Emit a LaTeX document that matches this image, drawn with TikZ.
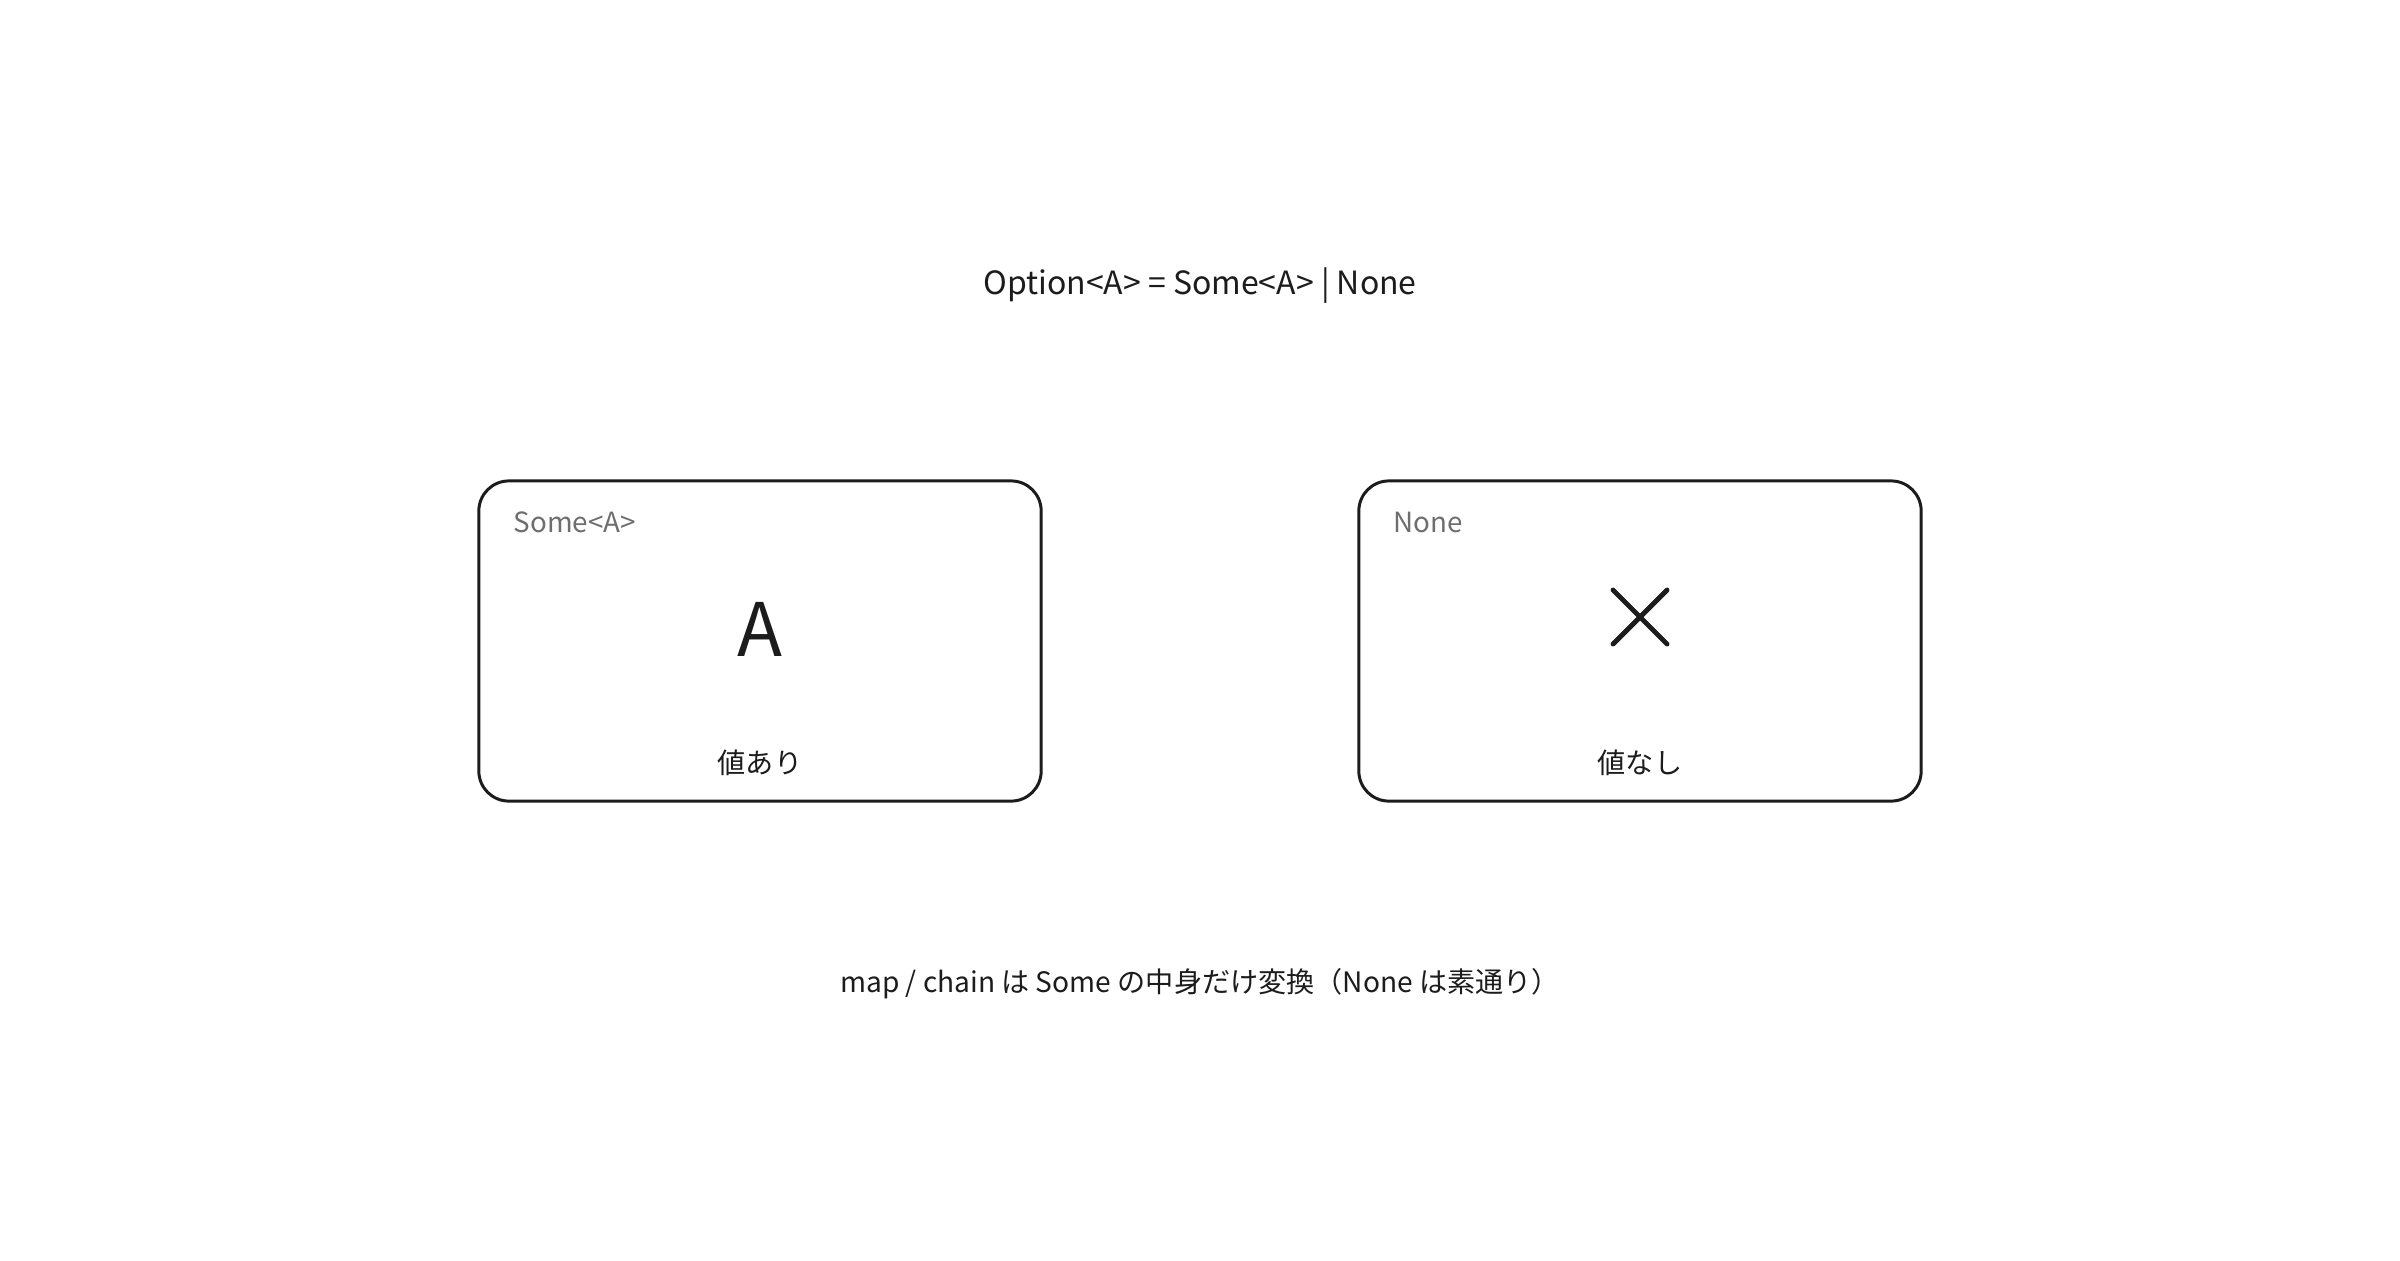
\documentclass[tikz,border=0pt]{standalone}
\usepackage{fontspec}
\setmainfont{Noto Sans CJK JP}
\usetikzlibrary{positioning}
\definecolor{ink}{HTML}{1C1C1C}
\definecolor{tagGray}{HTML}{6E6E6E}
\tikzset{every text node part/.style={align=center}}
\tikzset{card/.style = {draw=ink, line width=0.85pt, rounded corners=0.3cm,
						minimum width=5.62cm, minimum height=3.2cm}}
\tikzset{tag/.style = {text=tagGray, anchor=west, inner sep=0pt, font=\fontsize{7.9}{10}\selectfont}}
\tikzset{txt/.style = {text=ink, inner sep=0pt, font=\fontsize{8}{10}\selectfont}}

\begin{document}
\begin{tikzpicture}[x=0.01cm, y=-0.01cm, line cap=round, line join=round]
		\useasboundingbox (0,0) rectangle (2400,1260);
		
		% Coordinates
		\coordinate (S) at (760,641);
		\coordinate (N) at (1640,641);
		
		% Cards
		\node[card] (some) at (S) {};
		\node[card] (none) at (N) {};
		
		% Nodes
		\node[txt, font=\fontsize{9.1}{11}\selectfont] (title) at (1200,286) {Option<A> = Some<A> | None};
		\node[tag] (someTag) at (513,522) {Some<A>};
		\node[tag] (noneTag) at (1393,522) {None};
		\node[txt, font=\fontsize{21}{24}\selectfont] (val) at (760,629) {A};
		\node[txt] (hasVal) at (760,763) {値あり};
		\node[txt] (noVal) at (1640,763) {値なし};
		\node[txt] (note) at (1200,984) {map / chain は Some の中身だけ変換（None は素通り）};
		
		% Cross
		\coordinate (xa) at (1613,590);
		\coordinate (xb) at (1667,644);
		\coordinate (xc) at (1667,590);
		\coordinate (xd) at (1613,644);
		\draw[ink, line width=1.4pt] (xa) -- (xb);
		\draw[ink, line width=1.4pt] (xc) -- (xd);
	\end{tikzpicture}
\end{document}
